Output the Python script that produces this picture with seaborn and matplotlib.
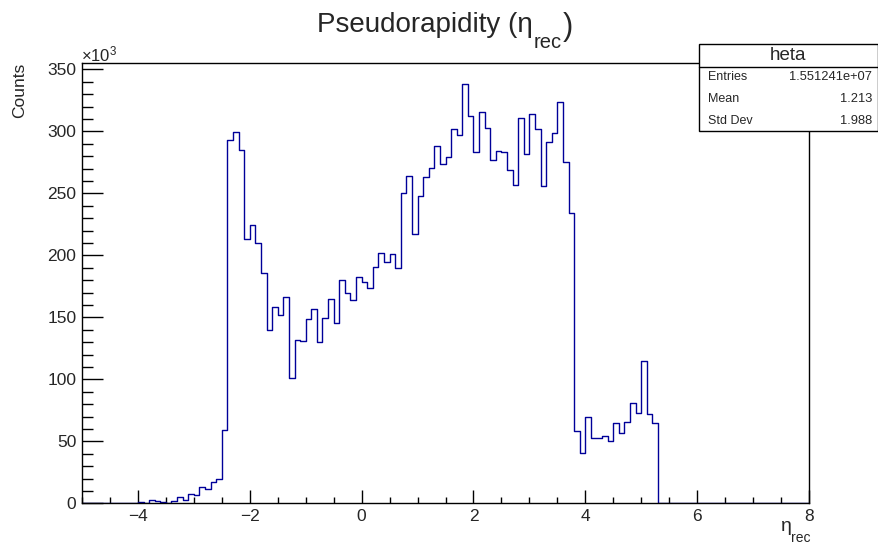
import numpy as np
import pandas as pd
import matplotlib
matplotlib.use("Agg")
import matplotlib.pyplot as plt
from matplotlib.patches import Rectangle
from matplotlib.lines import Line2D
from matplotlib.ticker import MultipleLocator
import seaborn as sns

# ---------------- data (counts in thousands, bins of width 0.1) ----------------
hist_range = (-5.0, 8.0)
n_bins = 130
first_filled_bin_low = -4.0
counts_k = [
    1.1, 0.3, 2.7, 2.1, 1.3, 0.5, 2.1, 4.8, 2.7, 7.5,          # -4.0 .. -3.1
    6.7, 12.9, 11.3, 17.5, 19.3, 59.0, 292.9, 299.6, 284.8, 212.8,  # -3.0 .. -2.1
    224.3, 209.6, 185.4, 139.7, 158.5, 151.8, 166.0, 100.7, 131.6, 130.8,  # -2.0 .. -1.1
    148.3, 156.4, 130.3, 149.6, 164.4, 145.6, 180.5, 169.3, 163.9, 182.2,  # -1.0 .. -0.1
    178.7, 173.3, 190.8, 201.5, 194.5, 200.7, 190.0, 249.9, 263.8, 217.6,  # 0.0 .. 0.9
    247.7, 263.3, 270.8, 288.3, 273.5, 279.4, 302.2, 296.9, 338.0, 312.2,  # 1.0 .. 1.9
    283.4, 315.7, 303.0, 277.3, 284.3, 283.4, 268.7, 257.1, 311.1, 281.6,  # 2.0 .. 2.9
    314.3, 302.2, 255.8, 291.5, 299.0, 323.7, 275.4, 234.5, 58.3, 40.3,    # 3.0 .. 3.9
    69.3, 52.4, 52.4, 54.5, 50.2, 64.5, 56.4, 65.8, 81.1, 72.5,            # 4.0 .. 4.9
    115.0, 71.9, 64.9,                                                      # 5.0 .. 5.2
]
x_ticks = [-4, -2, 0, 2, 4, 6, 8]
y_ticks = [0, 50, 100, 150, 200, 250, 300, 350]
stats_name = "heta"
stats_labels = ["Entries", "Mean", "Std Dev"]
stats_values = ["1.551241e+07", "1.213", "1.988"]
title_main = "Pseudorapidity (\u03b7"
title_sub = "rec"
title_close = ")"
xlabel_main = "\u03b7"
xlabel_sub = "rec"
ylabel_text = "Counts"
multiplier_text = r"$\times$10$^{3}$"

# ---------------- build full histogram table ----------------
edges = np.linspace(hist_range[0], hist_range[1], n_bins + 1)
centers = 0.5 * (edges[:-1] + edges[1:])
weights = np.zeros(n_bins)
start = int(round((first_filled_bin_low - hist_range[0]) / (edges[1] - edges[0])))
weights[start:start + len(counts_k)] = counts_k
df = pd.DataFrame({"eta": centers, "counts": weights})

# ---------------- style ----------------
sns.set_style("ticks")
plt.rcParams["font.family"] = ["Liberation Sans", "DejaVu Sans"]
plt.rcParams["mathtext.fontset"] = "custom"
plt.rcParams["mathtext.rm"] = "Liberation Sans"
plt.rcParams["mathtext.it"] = "Liberation Sans"
plt.rcParams["mathtext.bf"] = "Liberation Sans:bold"

W, H = 879, 545
fig = plt.figure(figsize=(W / 100, H / 100), dpi=100)
fig.patch.set_facecolor("white")

ax_l, ax_r, ax_t, ax_b = 82, 809, 63.3, 503.3
ax = fig.add_axes([ax_l / W, 1 - ax_b / H, (ax_r - ax_l) / W, (ax_b - ax_t) / H])

sns.histplot(data=df, x="eta", weights="counts", bins=n_bins, binrange=hist_range,
             element="step", fill=False, color="#000099", linewidth=1.0, ax=ax)

ax.set_xlim(*hist_range)
ax.set_ylim(0, 1.05 * max(counts_k))
ax.set_xlabel("")
ax.set_ylabel("")
ax.set_xticks(x_ticks)
ax.set_yticks(y_ticks)
ax.xaxis.set_minor_locator(MultipleLocator(0.5))
ax.yaxis.set_minor_locator(MultipleLocator(10))

px = 0.72  # points per pixel at 100 dpi
ax.tick_params(axis="x", which="major", direction="in", length=13 * px, width=1,
               labelsize=12.5, pad=4, color="black", top=False)
ax.tick_params(axis="x", which="minor", direction="in", length=6.5 * px, width=1,
               color="black", top=False)
ax.tick_params(axis="y", which="major", direction="in", length=21.5 * px, width=1,
               labelsize=12.5, pad=4, color="black", right=False)
ax.tick_params(axis="y", which="minor", direction="in", length=11 * px, width=1,
               color="black", right=False)
for s in ax.spines.values():
    s.set_visible(True)
    s.set_color("black")
    s.set_linewidth(1.0)

def fx(p):
    return p / W

def fy(p):
    return 1 - p / H

renderer = fig.canvas.get_renderer()

def width_px(t):
    return t.get_window_extent(renderer=renderer).width

# title, composed ROOT-style (large, low subscript)
t1 = fig.text(0, fy(32), title_main, ha="left", va="baseline", fontsize=20)
t2 = fig.text(0, fy(48), title_sub, ha="left", va="baseline", fontsize=14.5)
t3 = fig.text(0, fy(35), title_close, ha="left", va="baseline", fontsize=22)
w1, w2, w3 = width_px(t1), width_px(t2), width_px(t3)
total = w1 + w2 + w3 + 1
x0 = 445 - total / 2
t1.set_x(fx(x0))
t2.set_x(fx(x0 + w1))
t3.set_x(fx(x0 + w1 + w2 + 1))

# y label
fig.text(fx(20), fy(63), ylabel_text, rotation=90, ha="center", va="top", fontsize=12.5)
# multiplier
fig.text(fx(81), fy(61), multiplier_text, ha="left", va="baseline", fontsize=12)
# x label (eta with subscript, right-aligned to the axis end)
xs = fig.text(fx(811), fy(542), xlabel_sub, ha="right", va="baseline", fontsize=10)
ws = width_px(xs)
fig.text(fx(811 - ws), fy(531), xlabel_main, ha="right", va="baseline", fontsize=14)

# stats box
bx0, bx1, by0, by1, bdiv = 699, 878, 44, 131, 67
fig.patches.append(Rectangle((fx(bx0), fy(by1)), (bx1 - bx0) / W, (by1 - by0) / H,
                             transform=fig.transFigure, facecolor="white",
                             edgecolor="black", linewidth=1.0, zorder=10))
fig.lines.append(Line2D([fx(bx0), fx(bx1)], [fy(bdiv), fy(bdiv)],
                        transform=fig.transFigure, color="black", linewidth=1.0, zorder=11))
fig.text(fx((bx0 + bx1) / 2), fy(55.5), stats_name, ha="center", va="center",
         fontsize=13.5, zorder=12)
row_y = [77, 99, 120.5]
for lab, val, yy in zip(stats_labels, stats_values, row_y):
    fig.text(fx(708), fy(yy), lab, ha="left", va="center", fontsize=9, zorder=12)
    fig.text(fx(872), fy(yy), val, ha="right", va="center", fontsize=9.3, zorder=12)

fig.savefig("out.png", dpi=100, facecolor="white")
